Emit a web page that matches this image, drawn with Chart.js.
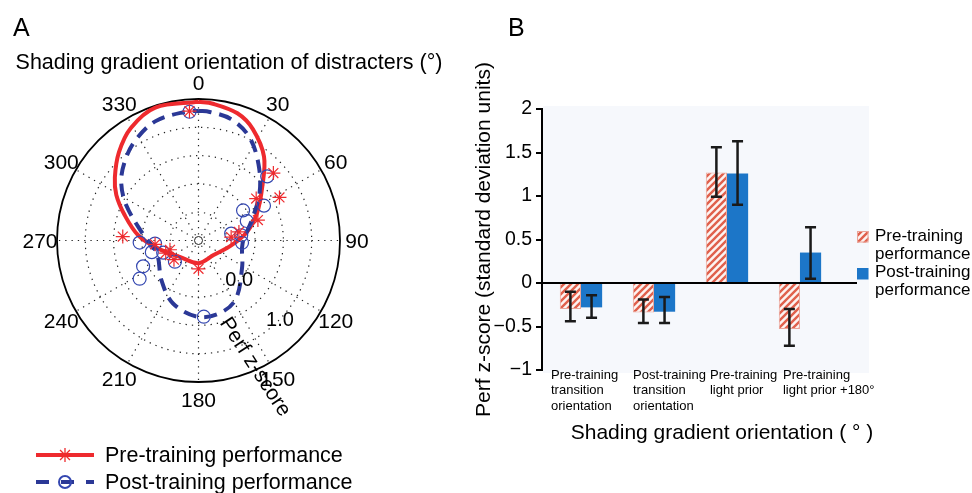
<!DOCTYPE html>
<html>
<head>
<meta charset="utf-8">
<script src="https://cdn.jsdelivr.net/npm/chart.js@4"></script>
<style>
  html, body { margin: 0; padding: 0; background: #fff; }
  #tela { position: relative; width: 972px; height: 493px; overflow: hidden; }
  #caixaA { position: absolute; left: 0; top: 0; }
  #caixaB { position: absolute; left: 470px; top: 0; }
</style>
</head>
<body>
<div id="tela">
  <canvas id="caixaA" width="470" height="493"></canvas>
  <canvas id="caixaB" width="502" height="493"></canvas>
</div>
<script>
/* ================= DADOS - PAINEL A (polar) ================= */
const angulosGrade = [0, 30, 60, 90, 120, 150, 180, 210, 240, 270, 300, 330];
const aneisGrade = [-0.5, 0, 0.5, 1.0];
const raioMin = -1;
const raioMax = 1.5;
const rotulosRaio = [0, 1.0];

// curva ajustada pre-treino (angulo em graus, z-score)
const curvaPreAng = [0, 6, 17, 26, 38, 50, 65, 80, 98, 134, 180, 229, 259, 275, 289, 299, 307, 318, 329, 342, 360];
const curvaPreVal = [1.45, 1.43, 1.35, 1.19, 0.88, 0.47, 0.14, -0.13, -0.41, -0.63, -0.60, -0.56, -0.27, 0.07, 0.38, 0.66, 0.85, 1.10, 1.32, 1.47, 1.45];

// curva ajustada pos-treino
const curvaPosAng = [0, 5, 15, 26, 38, 52, 69, 94, 121, 147, 162, 180, 202, 223, 253, 276, 296, 307, 317, 327, 340, 355, 360];
const curvaPosVal = [1.29, 1.28, 1.22, 1.04, 0.72, 0.37, 0.01, -0.22, -0.10, 0.22, 0.33, 0.35, 0.20, -0.04, -0.23, -0.02, 0.42, 0.71, 0.91, 1.08, 1.24, 1.29, 1.29];

// pontos medidos
const pontosPreAng = [356, 48, 62, 54, 71, 78, 84, 273, 265, 252, 249, 232, 180];
const pontosPreVal = [1.29, 0.78, 0.62, 0.26, 0.11, -0.27, -0.42, 0.34, -0.23, -0.47, -0.38, -0.45, -0.50];
const pontosPosAng = [356, 47, 62, 56, 68, 78, 83, 93, 268, 266, 256, 251, 228, 245, 237, 176];
const pontosPosVal = [1.28, 0.66, 0.31, -0.05, -0.08, -0.41, -0.24, -0.23, 0.04, -0.23, -0.15, -0.34, -0.44, 0.08, 0.24, 0.35];

/* ================= DADOS - PAINEL B (barras) ================= */
const categorias = [
  ["Pre-training", "transition", "orientation"],
  ["Post-training", "transition", "orientation"],
  ["Pre-training", "light prior"],
  ["Pre-training", "light prior +180°"]
];
const preMedia = [-0.30, -0.34, 1.27, -0.53];
const preErroBaixo = [-0.44, -0.46, 0.99, -0.72];
const preErroAlto = [-0.10, -0.19, 1.56, -0.30];
const posMedia = [-0.28, -0.33, 1.26, 0.35];
const posErroBaixo = [-0.40, -0.46, 0.90, 0.05];
const posErroAlto = [-0.14, -0.16, 1.63, 0.64];
const yMin = -1, yMax = 2, yPasso = 0.5;

/* ================= ESTILO ================= */
const FONTE = "'Liberation Sans', Arial, Helvetica, sans-serif";
const VERMELHO = "#ee2a2e";
const AZUL_ESCURO = "#2b3896";
const AZUL_PONTO = "#3447b0";
const AZUL_BARRA = "#1c76c8";
const LISTRA = "#e0604c";

Chart.defaults.font.family = FONTE;
Chart.defaults.color = "#000";

/* ================= FUNÇÕES AUXILIARES ================= */
function polarParaXY(ang, val) {
  const r = val - raioMin;
  const t = ang * Math.PI / 180;
  return { x: r * Math.sin(t), y: r * Math.cos(t) };
}

function montarPontos(angs, vals) {
  return angs.map((a, i) => polarParaXY(a, vals[i]));
}

function desenharAsterisco(ctx, x, y, r) {
  ctx.beginPath();
  for (let k = 0; k < 4; k++) {
    const t = k * Math.PI / 4;
    ctx.moveTo(x - r * Math.cos(t), y - r * Math.sin(t));
    ctx.lineTo(x + r * Math.cos(t), y + r * Math.sin(t));
  }
  ctx.stroke();
}

function criarHachura(ctx) {
  const c = document.createElement("canvas");
  c.width = 7; c.height = 7;
  const g = c.getContext("2d");
  g.fillStyle = "#fdf3f1";
  g.fillRect(0, 0, 7, 7);
  g.strokeStyle = LISTRA;
  g.lineWidth = 2.4;
  g.beginPath();
  g.moveTo(-1, 8); g.lineTo(8, -1);
  g.moveTo(-1, 1); g.lineTo(1, -1);
  g.moveTo(6, 8); g.lineTo(8, 6);
  g.stroke();
  return ctx.createPattern(c, "repeat");
}

/* ================= PAINEL A ================= */
const gradePolar = {
  id: "gradePolar",
  beforeDatasetsDraw(chart) {
    const ctx = chart.ctx;
    const xs = chart.scales.x, ys = chart.scales.y;
    const cx = xs.getPixelForValue(0), cy = ys.getPixelForValue(0);
    const k = xs.getPixelForValue(1) - cx;
    const R = (raioMax - raioMin) * k;

    ctx.save();
    ctx.strokeStyle = "#222";
    ctx.lineWidth = 1.2;
    ctx.setLineDash([1.3, 5]);
    aneisGrade.forEach(v => {
      ctx.beginPath();
      ctx.arc(cx, cy, (v - raioMin) * k, 0, 2 * Math.PI);
      ctx.stroke();
    });
    angulosGrade.forEach(a => {
      const t = a * Math.PI / 180;
      ctx.beginPath();
      ctx.moveTo(cx + 6 * Math.sin(t), cy - 6 * Math.cos(t));
      ctx.lineTo(cx + R * Math.sin(t), cy - R * Math.cos(t));
      ctx.stroke();
    });
    ctx.setLineDash([]);
    ctx.lineWidth = 1;
    ctx.beginPath();
    ctx.arc(cx, cy, 4, 0, 2 * Math.PI);
    ctx.stroke();
    ctx.strokeStyle = "#000";
    ctx.lineWidth = 1.8;
    ctx.beginPath();
    ctx.arc(cx, cy, R, 0, 2 * Math.PI);
    ctx.stroke();
    ctx.restore();
  },
  afterDraw(chart) {
    const ctx = chart.ctx;
    const xs = chart.scales.x, ys = chart.scales.y;
    const cx = xs.getPixelForValue(0), cy = ys.getPixelForValue(0);
    const k = xs.getPixelForValue(1) - cx;
    const R = (raioMax - raioMin) * k;

    ctx.save();
    ctx.fillStyle = "#000";
    ctx.textAlign = "center";
    ctx.textBaseline = "middle";

    // rotulos de angulo
    ctx.font = "21px " + FONTE;
    angulosGrade.forEach(a => {
      const t = a * Math.PI / 180;
      const d = R + 17;
      ctx.fillText(String(a), cx + d * Math.sin(t), cy - d * Math.cos(t) + 2);
    });

    // rotulos do raio
    ctx.font = "20px " + FONTE;
    const tR = 134 * Math.PI / 180;
    rotulosRaio.forEach(v => {
      const d = (v - raioMin) * k;
      ctx.fillText(v.toFixed(1), cx + d * Math.sin(tR), cy - d * Math.cos(tR) + 1);
    });

    // titulo do raio, girado
    ctx.save();
    ctx.font = "21px " + FONTE;
    const tT = 156 * Math.PI / 180;
    const dT = 2.45 * k;
    ctx.translate(cx + dT * Math.sin(tT), cy - dT * Math.cos(tT));
    ctx.rotate(57 * Math.PI / 180);
    ctx.fillText("Perf z-score", 0, 0);
    ctx.restore();

    // titulo e letra do painel
    ctx.font = "21.5px " + FONTE;
    ctx.fillText("Shading gradient orientation of distracters (°)", 229, 63);
    ctx.textAlign = "left";
    ctx.textBaseline = "alphabetic";
    ctx.font = "25px " + FONTE;
    ctx.fillText("A", 13, 36);

    // legenda
    ctx.textBaseline = "middle";
    ctx.font = "21.5px " + FONTE;
    ctx.strokeStyle = VERMELHO;
    ctx.lineWidth = 4;
    ctx.beginPath(); ctx.moveTo(36, 455); ctx.lineTo(94, 455); ctx.stroke();
    ctx.lineWidth = 1.3;
    desenharAsterisco(ctx, 65, 455, 7);
    ctx.fillText("Pre-training performance", 105, 456);

    ctx.strokeStyle = AZUL_ESCURO;
    ctx.lineWidth = 4;
    ctx.setLineDash([13, 12]);
    ctx.beginPath(); ctx.moveTo(36, 482); ctx.lineTo(94, 482); ctx.stroke();
    ctx.setLineDash([]);
    ctx.strokeStyle = AZUL_PONTO;
    ctx.lineWidth = 2;
    ctx.beginPath(); ctx.arc(65, 482, 6, 0, 2 * Math.PI); ctx.stroke();
    ctx.fillText("Post-training performance", 105, 483);
    ctx.restore();
  }
};

new Chart(document.getElementById("caixaA"), {
  type: "scatter",
  data: {
    datasets: [
      {
        label: "Pre-training points",
        data: montarPontos(pontosPreAng, pontosPreVal),
        pointStyle: "star",
        pointRadius: 7,
        borderWidth: 1.2,
        borderColor: VERMELHO,
        backgroundColor: VERMELHO,
        clip: false
      },
      {
        label: "Post-training points",
        data: montarPontos(pontosPosAng, pontosPosVal),
        pointStyle: "circle",
        pointRadius: 6.5,
        borderWidth: 1.2,
        borderColor: AZUL_PONTO,
        backgroundColor: "rgba(0,0,0,0)",
        clip: false
      },
      {
        label: "Post-training performance",
        data: montarPontos(curvaPosAng, curvaPosVal),
        showLine: true,
        pointRadius: 0,
        borderColor: AZUL_ESCURO,
        borderWidth: 4,
        borderDash: [13, 8],
        tension: 0.35,
        clip: false
      },
      {
        label: "Pre-training performance",
        data: montarPontos(curvaPreAng, curvaPreVal),
        showLine: true,
        pointRadius: 0,
        borderColor: VERMELHO,
        borderWidth: 4,
        tension: 0.35,
        clip: false
      }
    ]
  },
  options: {
    responsive: false,
    animation: false,
    layout: { padding: { left: 57, right: 130, top: 99, bottom: 111 } },
    plugins: { legend: { display: false }, tooltip: { enabled: false } },
    scales: {
      x: { type: "linear", min: raioMin - raioMax, max: raioMax - raioMin, display: false },
      y: { type: "linear", min: raioMin - raioMax, max: raioMax - raioMin, display: false }
    }
  },
  plugins: [gradePolar]
});

/* ================= PAINEL B ================= */
const ctxB = document.getElementById("caixaB").getContext("2d");
const hachura = criarHachura(ctxB);

const extrasBarras = {
  id: "extrasBarras",
  beforeDatasetsDraw(chart) {
    const ctx = chart.ctx;
    const a = chart.chartArea;
    ctx.save();
    ctx.fillStyle = "#f6f8fc";
    ctx.fillRect(a.left + 1, a.top - 3, a.right - a.left, a.bottom - a.top + 6);
    ctx.restore();
  },
  afterDatasetsDraw(chart) {
    const ctx = chart.ctx;
    const a = chart.chartArea;
    const ys = chart.scales.y;
    const y0 = ys.getPixelForValue(0);
    ctx.save();
    // linha do zero
    ctx.strokeStyle = "#000";
    ctx.lineWidth = 2;
    ctx.beginPath(); ctx.moveTo(a.left, y0); ctx.lineTo(a.right - 11, y0); ctx.stroke();

    // barras de erro
    const erros = [[preErroBaixo, preErroAlto], [posErroBaixo, posErroAlto]];
    ctx.strokeStyle = "#1a1a1a";
    ctx.lineWidth = 2.5;
    erros.forEach((par, d) => {
      chart.getDatasetMeta(d).data.forEach((el, i) => {
        const x = el.x;
        const yb = ys.getPixelForValue(par[0][i]);
        const ya = ys.getPixelForValue(par[1][i]);
        ctx.beginPath();
        ctx.moveTo(x, yb); ctx.lineTo(x, ya);
        ctx.moveTo(x - 5.5, yb); ctx.lineTo(x + 5.5, yb);
        ctx.moveTo(x - 5.5, ya); ctx.lineTo(x + 5.5, ya);
        ctx.stroke();
      });
    });
    ctx.restore();
  },
  afterDraw(chart) {
    const ctx = chart.ctx;
    const a = chart.chartArea;
    const xs = chart.scales.x;
    const deslocRotulo = [-30, -21, -17, -17];
    ctx.save();
    ctx.fillStyle = "#000";
    ctx.textBaseline = "middle";
    ctx.textAlign = "left";

    // rotulos das categorias
    ctx.font = "13px " + FONTE;
    categorias.forEach((linhas, i) => {
      const x = xs.getPixelForValue(i + 1) + deslocRotulo[i];
      linhas.forEach((t, j) => ctx.fillText(t, x, a.bottom + 5 + j * 15.5));
    });

    // titulo do eixo x
    ctx.textAlign = "center";
    ctx.font = "21px " + FONTE;
    ctx.fillText("Shading gradient orientation ( ° )", a.left + 180, a.bottom + 63);

    // letra do painel
    ctx.textAlign = "left";
    ctx.textBaseline = "alphabetic";
    ctx.font = "25px " + FONTE;
    ctx.fillText("B", 38, 36);

    // legenda
    ctx.textBaseline = "middle";
    ctx.font = "17px " + FONTE;
    const lx = a.right - 11;
    ctx.fillStyle = hachura;
    ctx.fillRect(lx, 231, 11.5, 11.5);
    ctx.strokeStyle = "#eaa397";
    ctx.lineWidth = 1;
    ctx.strokeRect(lx + 0.5, 231.5, 10.5, 10.5);
    ctx.fillStyle = AZUL_BARRA;
    ctx.fillRect(lx, 268, 11.5, 11.5);
    ctx.fillStyle = "#000";
    ctx.fillText("Pre-training", lx + 18, 236);
    ctx.fillText("performance", lx + 18, 254);
    ctx.fillText("Post-training", lx + 18, 272);
    ctx.fillText("performance", lx + 18, 290);
    ctx.restore();
  }
};

new Chart(ctxB, {
  type: "bar",
  data: {
    datasets: [
      {
        label: "Pre-training performance",
        data: preMedia.map((v, i) => ({ x: i + 1, y: v })),
        backgroundColor: hachura,
        borderColor: "#eaa397",
        borderWidth: 1,
        categoryPercentage: 0.58,
        barPercentage: 1
      },
      {
        label: "Post-training performance",
        data: posMedia.map((v, i) => ({ x: i + 1, y: v })),
        backgroundColor: AZUL_BARRA,
        borderWidth: 0,
        categoryPercentage: 0.58,
        barPercentage: 1
      }
    ]
  },
  options: {
    responsive: false,
    animation: false,
    layout: { padding: { left: 0, right: 104, top: 109, bottom: 123 } },
    plugins: { legend: { display: false }, tooltip: { enabled: false } },
    scales: {
      x: {
        type: "linear",
        offset: false,
        min: 0.466,
        max: 4.932,
        afterBuildTicks: s => { s.ticks = categorias.map((c, i) => ({ value: i + 1 })); },
        ticks: { display: false },
        grid: { display: false, offset: false },
        border: { display: false },
        afterFit: s => { s.height = 0; }
      },
      y: {
        min: yMin,
        max: yMax,
        ticks: {
          stepSize: yPasso,
          padding: 4,
          font: { size: 19.5 },
          color: "#000",
          callback: v => (v < 0 ? "\u2212" + Math.abs(v) : String(v))
        },
        grid: { drawOnChartArea: false, drawTicks: true, tickLength: 6, color: "#000", lineWidth: 2 },
        border: { display: true, color: "#000", width: 2.5 },
        title: {
          display: true,
          text: "Perf z-score (standard deviation units)",
          font: { size: 21 },
          color: "#000",
          padding: { top: 2, bottom: 0 }
        },
        afterFit: s => { s.width = 72; }
      }
    }
  },
  plugins: [extrasBarras]
});
</script>
</body>
</html>
